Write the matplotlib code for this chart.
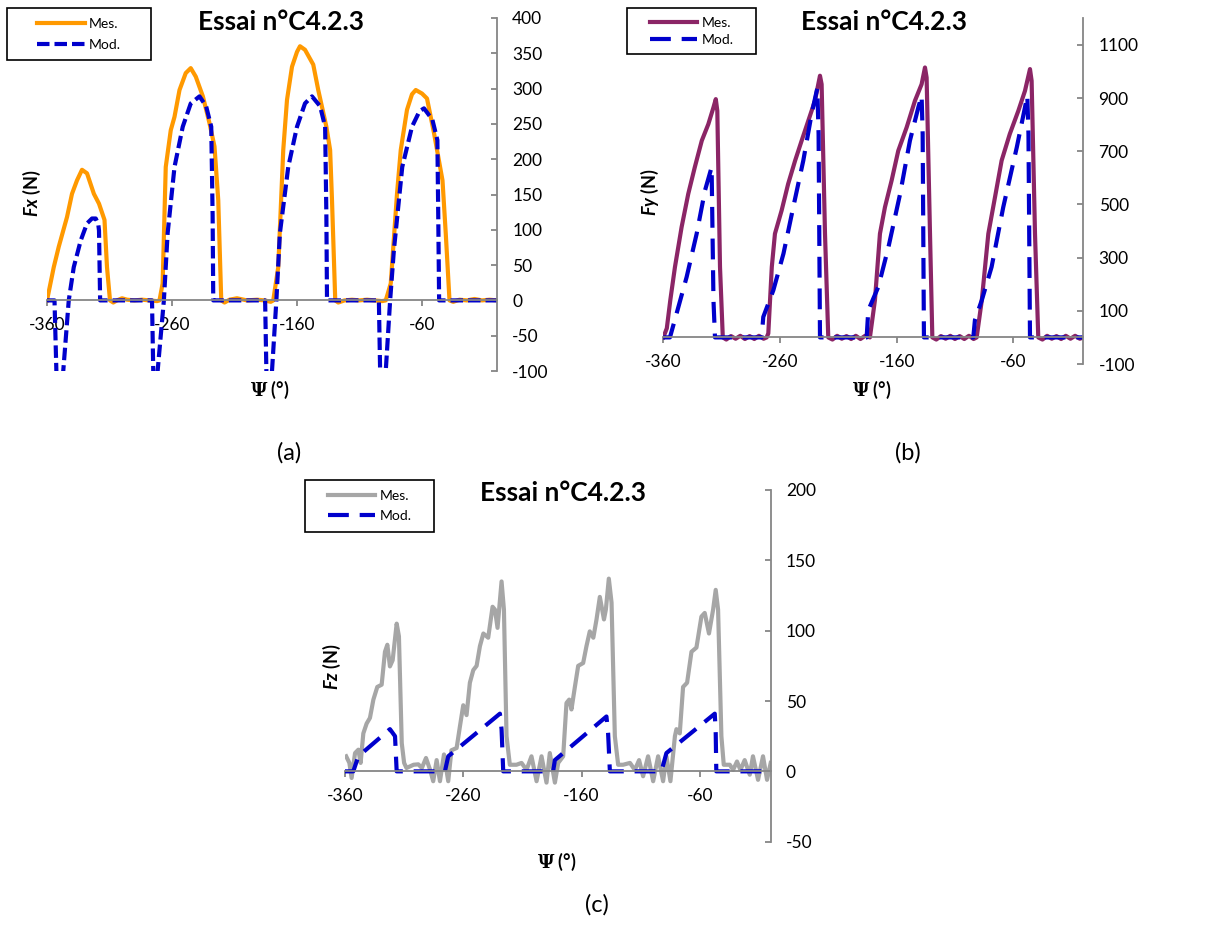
import matplotlib
matplotlib.use("Agg")
import matplotlib.pyplot as plt
from matplotlib.patches import Rectangle

plt.rcParams['font.family'] = ['Lato', 'DejaVu Sans']
plt.rcParams['axes.unicode_minus'] = False
plt.rcParams['mathtext.fontset'] = 'custom'
plt.rcParams['mathtext.rm'] = 'Lato'
plt.rcParams['mathtext.it'] = 'Lato:italic:bold'
plt.rcParams['mathtext.bf'] = 'DejaVu Serif:bold'

# ---- data: (psi in deg, force in N) ----
fx_mes = [(-360, 0), (-354.6, 47), (-350.6, 76), (-344, 118), (-340, 151), (-336, 170), (-332, 185),
          (-328, 180), (-322.5, 151), (-318.4, 137), (-314, 114), (-312, 47), (-309.6, 0), (-307, -3),
          (-304, 0), (-300, 3), (-296, 1), (-290, 0), (-284, 1), (-278, 0), (-272, -1), (-270, 0),
          (-267.5, 24), (-265, 189), (-261, 241), (-258, 260), (-254, 298), (-249, 322), (-245, 329),
          (-241, 317), (-235.3, 289), (-230, 251), (-226, 218), (-223, 142), (-220.6, 0), (-218, -3),
          (-214, 1), (-208, 3), (-200, 0), (-192, 1), (-186, 0), (-181, -2), (-179, 0), (-175, 47),
          (-171, 213), (-168, 284), (-164, 331), (-160, 352), (-157.6, 360), (-153.6, 355), (-147, 334),
          (-143, 298), (-136.5, 246), (-133.5, 213), (-132, 142), (-129.4, 0), (-127, -3), (-122, 0),
          (-116, 1), (-110, 0), (-104, 1), (-98, 0), (-92, -1), (-89, 0), (-85, 24), (-80, 151),
          (-77, 213), (-72, 270), (-68, 292), (-65, 298), (-60, 293), (-56, 286), (-50.4, 237),
          (-43.6, 170), (-41, 95), (-38, 0), (-35, -2), (-30, 1), (-24, 0), (-18, 2), (-12, 0),
          (-6, 1), (0, 0)]
fx_mod = [(-360, 0), (-354, 0), (-352.5, -100), (-350, -260), (-347, -100), (-342.6, 0), (-338.6, 47),
          (-333, 85), (-328, 109), (-324, 116), (-321, 116), (-319, 108), (-318.4, 99), (-317.5, 0),
          (-276, 0), (-275, -100), (-273.5, -260), (-271.5, -100), (-266.5, 0), (-263.5, 95),
          (-258, 189), (-251.4, 246), (-245, 279), (-238, 289), (-232.7, 275), (-228.6, 246),
          (-227.5, 120), (-227, 0), (-185.5, 0), (-184.5, -100), (-182, -260), (-180, -100),
          (-176.5, 0), (-173.7, 95), (-167, 189), (-160, 246), (-153.6, 279), (-148, 289),
          (-141.5, 275), (-137.5, 246), (-136.5, 120), (-136, 0), (-94.5, 0), (-93.5, -100),
          (-91, -260), (-89, -100), (-85.5, 0), (-82.5, 71), (-75.8, 189), (-68, 246), (-62, 268),
          (-58.4, 272), (-51.7, 256), (-47.7, 227), (-47, 120), (-46.3, 0), (0, 0)]

fy_mes = [(-360, 0), (-357, 34), (-354, 140), (-350, 265), (-344.3, 415), (-338.6, 540), (-333, 640),
          (-327, 740), (-321.4, 802), (-317, 865), (-315, 896), (-313.7, 852), (-311.4, 265),
          (-309, 0), (-306, -8), (-302, 5), (-298, -5), (-294, 6), (-290, -6), (-286, 5), (-282, -6),
          (-278, 6), (-274, -5), (-271.4, 0), (-270, 15), (-267, 265), (-264.3, 390), (-258.6, 477),
          (-253, 577), (-247, 665), (-241.4, 740), (-235.7, 815), (-230, 890), (-225.7, 984),
          (-224.3, 952), (-221.4, 390), (-218.6, 0), (-215, -8), (-211, 6), (-207, -5), (-203, 5),
          (-199, -6), (-195, 6), (-191, -6), (-187, 6), (-182.9, 0), (-178.6, 140), (-174.3, 390),
          (-170, 490), (-164.3, 590), (-158.6, 702), (-151.4, 790), (-144.3, 890), (-138.6, 952),
          (-135.7, 1015), (-134.3, 977), (-131.4, 390), (-129.4, 0), (-126, -8), (-122, 5),
          (-118, -5), (-114, 6), (-110, -6), (-106, 5), (-102, -6), (-98, 6), (-94, -6), (-91.4, 0),
          (-87, 140), (-81.4, 390), (-75.7, 527), (-70, 665), (-63, 765), (-55.7, 852), (-50, 927),
          (-45.7, 1009), (-44.3, 965), (-41.4, 390), (-38.6, 0), (-35, -8), (-31, 6), (-27, -5),
          (-23, 5), (-19, -6), (-15, 6), (-11, -5), (-7, 6), (-3, -5), (0, 0)]
fy_mod = [(-360, 0), (-354.3, 0), (-348.6, 90), (-340, 227), (-331.4, 390), (-324.3, 552),
          (-318.6, 640), (-317, 140), (-315.7, 0), (-275.7, 0), (-274.3, 77), (-265.7, 177),
          (-257, 315), (-248.6, 490), (-240, 665), (-232.9, 840), (-228, 937), (-226.9, 765),
          (-225.7, 0), (-185.7, 0), (-184.3, 102), (-175.7, 190), (-167, 340), (-157, 540),
          (-148.6, 740), (-141.4, 865), (-138.6, 909), (-137.7, 765), (-136.6, 0), (-94.3, 0),
          (-92.9, 65), (-87, 140), (-78.6, 265), (-68.6, 490), (-57, 715), (-50, 865), (-48, 909),
          (-47, 765), (-45.7, 0), (0, 0)]

fz_mes = [(-359, 10.7), (-356.3, 6), (-354.4, -4.7), (-351.5, 13), (-348.7, 15.4), (-346.8, 6),
          (-344.5, 27), (-341.7, 34), (-338.9, 38), (-336, 51), (-332.7, 60), (-329, 61.6),
          (-326.2, 85), (-324.2, 90), (-322, 74.6), (-319.7, 79), (-316.3, 105), (-314.4, 96),
          (-312, 20), (-310, 6), (-308, 2.4), (-302, 4.7), (-298, 5), (-295, 2.4), (-291.5, 9.5),
          (-288, 1), (-285.4, -7), (-282.5, 8), (-279.7, -7), (-276.3, 12), (-272.7, -7), (-270, 15),
          (-265.6, 16.6), (-262.8, 32), (-260, 47), (-257.2, 40), (-254.4, 63), (-251.5, 72),
          (-248.7, 75), (-245.9, 89), (-243, 98), (-238.9, 95), (-235.2, 117), (-233.2, 115),
          (-231, 102), (-227.6, 135), (-225.6, 115), (-223.4, 25), (-220.6, 4.7), (-215, 4.7),
          (-210.7, 6), (-206.5, 1), (-202.3, 10.7), (-198, -7), (-193.8, 10.7), (-189.6, -8),
          (-186.8, 13), (-182.5, -8), (-179.7, 6), (-175.5, 10.7), (-172.7, 48.6), (-170.4, 51),
          (-168.5, 44), (-165.6, 60), (-162.8, 75), (-158.6, 77), (-155.8, 89), (-153, 99.5),
          (-150, 95), (-147.3, 108), (-144.5, 124), (-141, 108), (-139.4, 115), (-136.9, 137),
          (-134.6, 120), (-131.8, 25), (-129, 4.7), (-124.8, 4.7), (-119, 6), (-114.9, 1),
          (-111.3, 8), (-107.9, -3.5), (-103.7, 10.7), (-99.4, -7), (-95.2, 10.7), (-91, -7),
          (-88.2, 10.7), (-84.8, -7), (-81, 25), (-79.7, 30), (-76.9, 27), (-74.1, 60), (-70.7, 63),
          (-67, 85), (-62.8, 88), (-58.6, 110), (-55.8, 112.6), (-52.2, 98), (-48.7, 115),
          (-46.5, 129), (-44.5, 115), (-41.7, 25), (-39.7, 4.7), (-34.6, 4.7), (-31.8, 1),
          (-28.5, 7), (-25.6, 1), (-22, 8), (-17.7, -2.4), (-15, 10.7), (-10.7, -6), (-6.5, 10.7),
          (-3.1, -6), (0, 6)]
fz_mod = [(-360, 0), (-353, 0), (-348.7, 10.7), (-322, 30), (-317.7, 25), (-316.3, 0), (-275.5, 0),
          (-272.7, 10.7), (-229, 41), (-227.6, 30), (-226.2, 0), (-184, 0), (-182.5, 8),
          (-138.9, 39), (-137.5, 27), (-136, 0), (-92.4, 0), (-88.2, 13), (-47.3, 41), (-46.5, 27),
          (-46, 0), (0, 0)]

psi_ticks = [-360, -260, -160, -60]
fx_ticks = list(range(-100, 401, 50))
fy_ticks = list(range(-100, 1101, 200))
fz_ticks = list(range(-50, 201, 50))

W, H = 1215, 944
BLUE = '#0000CC'
AXIS_GREY = '#868686'

fig = plt.figure(figsize=(W / 100, H / 100), dpi=100)


def px(x, y):
    return x / W, 1 - y / H


def panel(box, mes, mod, mes_color, dashes, ticks, ylim, ylabel, title_xy, xlabel_xy,
          ylabel_xy, legend_box, spacing):
    left, top, right, bottom = box
    ax = fig.add_axes([left / W, 1 - bottom / H, (right - left) / W, (bottom - top) / H])
    ax.patch.set_alpha(0)
    ax.plot([p[0] for p in mes], [p[1] for p in mes], color=mes_color, lw=3,
            solid_joinstyle='round', label='Mes.')
    ax.plot([p[0] for p in mod], [p[1] for p in mod], color=BLUE, lw=3, dashes=dashes,
            label='Mod.')
    ax.set_xlim(-360, 0)
    ax.set_ylim(*ylim)
    ax.set_xticks(psi_ticks)
    ax.set_yticks(ticks)
    ax.yaxis.tick_right()
    for s in ['top', 'left']:
        ax.spines[s].set_visible(False)
    ax.spines['bottom'].set_position(('data', 0))
    for s in ['bottom', 'right']:
        ax.spines[s].set_color(AXIS_GREY)
        ax.spines[s].set_linewidth(1.3)
    ax.tick_params(axis='x', direction='out', length=4, width=1.3, color=AXIS_GREY,
                   labelsize=12.5, pad=8)
    ax.tick_params(axis='y', direction='in', length=4, width=1.3, color=AXIS_GREY,
                   labelsize=12.5, pad=11)

    fig.text(*px(*title_xy), 'Essai n°C4.2.3', fontsize=19, fontweight='bold',
             ha='center', va='center')
    fig.text(*px(*xlabel_xy), r'$\mathbf{\Psi}$ (°)', fontsize=13, fontweight='bold',
             ha='center', va='center')
    fig.text(*px(*ylabel_xy), ylabel, fontsize=13, fontweight='bold', rotation=90,
             ha='center', va='center')

    x0, y0, x1, y1 = legend_box
    fig.patches.append(Rectangle(px(x0, y1), (x1 - x0) / W, (y1 - y0) / H, fill=False,
                                 ec='black', lw=1.2, transform=fig.transFigure))
    ax.legend(loc='center', bbox_to_anchor=px((x0 + x1) / 2, (y0 + y1) / 2),
              bbox_transform=fig.transFigure, frameon=False, fontsize=10,
              handlelength=3.4, handletextpad=0.3, labelspacing=spacing, borderpad=0)
    return ax


panel((47, 18, 497, 371), fx_mes, fx_mod, '#FF9900', (3, 1.2), fx_ticks, (-100, 400),
      r'$Fx$ (N)', (281, 22), (270, 390), (32, 193), (7.3, 8.3, 151, 60), 0.65)
panel((663.3, 18.3, 1083.3, 364), fy_mes, fy_mod, '#8B2566', (5, 2.6), fy_ticks, (-100, 1200),
      r'$Fy$ (N)', (884, 22), (872, 390), (650, 192), (627.3, 8.3, 756, 54), 0.35)
panel((345, 490, 770.7, 841.7), fz_mes, fz_mod, '#A6A6A6', (5, 2.6), fz_ticks, (-50, 200),
      r'$Fz$ (N)', (563.3, 493.3), (556.7, 861.7), (332, 667), (305, 480, 434.3, 531.7), 0.6)

fig.text(*px(289, 453), '(a)', fontsize=17, ha='center', va='center')
fig.text(*px(908, 453), '(b)', fontsize=17, ha='center', va='center')
fig.text(*px(597, 905), '(c)', fontsize=17, ha='center', va='center')

fig.savefig('out.png', dpi=100)
